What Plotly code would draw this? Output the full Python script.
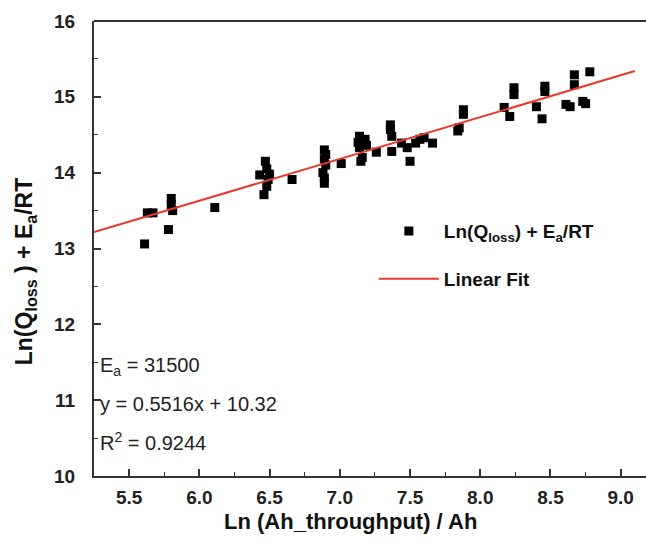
import numpy as np
import plotly.graph_objects as go

# Measured capacity-loss points: Ln(Ah throughput) vs Ln(Q_loss) + Ea/RT
ln_ah = [5.61, 5.63, 5.67, 5.78, 5.80, 5.80, 5.81, 6.11,
         6.43, 6.47, 6.48, 6.49, 6.48, 6.46, 6.50, 6.66,
         6.89, 6.90, 6.89, 6.90, 6.88, 6.89, 6.89, 7.01,
         7.14, 7.13, 7.14, 7.15, 7.16, 7.18, 7.19, 7.26,
         7.36, 7.36, 7.37, 7.37, 7.44, 7.48, 7.50, 7.54,
         7.57, 7.60, 7.66, 7.84, 7.85, 7.88, 7.88, 8.17,
         8.21, 8.24, 8.24, 8.40, 8.44, 8.46, 8.46, 8.61,
         8.64, 8.67, 8.67, 8.73, 8.75, 8.78]
ln_q = [13.06, 13.47, 13.47, 13.25, 13.66, 13.58, 13.50, 13.54,
        13.97, 14.15, 14.05, 13.91, 13.82, 13.71, 13.98, 13.91,
        14.30, 14.24, 14.18, 14.10, 14.00, 13.93, 13.86, 14.12,
        14.48, 14.40, 14.33, 14.15, 14.20, 14.44, 14.36, 14.27,
        14.63, 14.57, 14.48, 14.28, 14.39, 14.33, 14.15, 14.39,
        14.44, 14.46, 14.39, 14.55, 14.59, 14.83, 14.77, 14.86,
        14.74, 15.12, 15.03, 14.87, 14.71, 15.14, 15.07, 14.90,
        14.87, 15.29, 15.16, 14.94, 14.91, 15.33]

# Linear fit parameters
slope = 0.5516
intercept = 10.32
ea = 31500
r2 = 0.9244
fit_x = np.array([5.25, 9.1])
fit_y = slope * fit_x + intercept

x_ticks = [5.5, 6.0, 6.5, 7.0, 7.5, 8.0, 8.5, 9.0]
y_ticks = [10, 11, 12, 13, 14, 15, 16]

FONT = "Arial, Liberation Sans, sans-serif"
AXIS_COLOR = "#333333"

fig = go.Figure()
fig.add_trace(go.Scatter(
    x=ln_ah, y=ln_q, mode="markers",
    marker=dict(symbol="square", size=9, color="black"),
    name="<b>Ln(Q<sub>loss</sub>) + E<sub>a</sub>/RT</b>",
    legendgroup="a",
))
fig.add_trace(go.Scatter(
    x=fit_x, y=fit_y, mode="lines",
    line=dict(color="#e8392c", width=2),
    name="<b>Linear Fit</b>",
    legendgroup="b",
))

note_font = dict(size=20, color="#222222")

fig.update_layout(
    width=646, height=543,
    margin=dict(l=94, r=0, t=21, b=67),
    paper_bgcolor="white", plot_bgcolor="white",
    font=dict(family=FONT, color="black"),
    showlegend=True,
    legend=dict(
        x=0.507, y=0.58, xanchor="left", yanchor="top",
        bgcolor="rgba(0,0,0,0)", font=dict(size=19, color="#111111"),
        tracegroupgap=20, itemwidth=60,
    ),
    xaxis=dict(
        range=[5.25, 9.18], tickvals=x_ticks,
        ticktext=[f"<b>{v:.1f}</b>" for v in x_ticks],
        ticks="inside", ticklen=7, tickwidth=1.5, tickcolor=AXIS_COLOR,
        minor=dict(dtick=0.25, ticks="inside", ticklen=4, tickwidth=1.2, tickcolor=AXIS_COLOR),
        showline=True, linecolor=AXIS_COLOR, linewidth=2, mirror=False,
        showgrid=False, zeroline=False,
        tickfont=dict(size=19, color="#222222"),
        ticklabelstandoff=3,
    ),
    yaxis=dict(
        range=[10, 16], tickvals=y_ticks,
        ticktext=[f"<b>{v}</b>" for v in y_ticks],
        ticks="inside", ticklen=7, tickwidth=1.5, tickcolor=AXIS_COLOR,
        minor=dict(dtick=0.5, ticks="inside", ticklen=4, tickwidth=1.2, tickcolor=AXIS_COLOR),
        showline=True, linecolor=AXIS_COLOR, linewidth=2, mirror=False,
        showgrid=False, zeroline=False,
        tickfont=dict(size=19, color="#222222"),
        ticklabelstandoff=13,
    ),
    shapes=[dict(type="line", xref="paper", yref="paper", x0=0, x1=1, y0=1, y1=1,
                 line=dict(color=AXIS_COLOR, width=2))],
    annotations=[
        # axis titles
        dict(text="<b>Ln (Ah_throughput) / Ah</b>", xref="paper", yref="paper",
             x=0.464, y=-0.101, xanchor="center", yanchor="middle", showarrow=False,
             font=dict(size=22, color="#111111")),
        dict(text="<b>Ln(Q<sub>loss</sub> ) + E<sub>a</sub>/RT</b>", xref="paper", yref="paper",
             x=-0.125, y=0.45, xanchor="center", yanchor="middle", showarrow=False,
             textangle=-90, font=dict(size=23, color="#111111")),
        # fit summary
        dict(text=f"E<sub>a</sub> = {ea}", xref="paper", yref="y", x=0.007, y=11.45,
             xanchor="left", yanchor="middle", showarrow=False, font=note_font),
        dict(text=f"y = {slope}x + {intercept}", xref="paper", yref="y", x=0.007, y=10.95,
             xanchor="left", yanchor="middle", showarrow=False, font=note_font),
        dict(text=f"R<sup>2</sup> = {r2}", xref="paper", yref="y", x=0.007, y=10.45,
             xanchor="left", yanchor="middle", showarrow=False, font=note_font),
    ],
)

fig.write_html("out.html")
